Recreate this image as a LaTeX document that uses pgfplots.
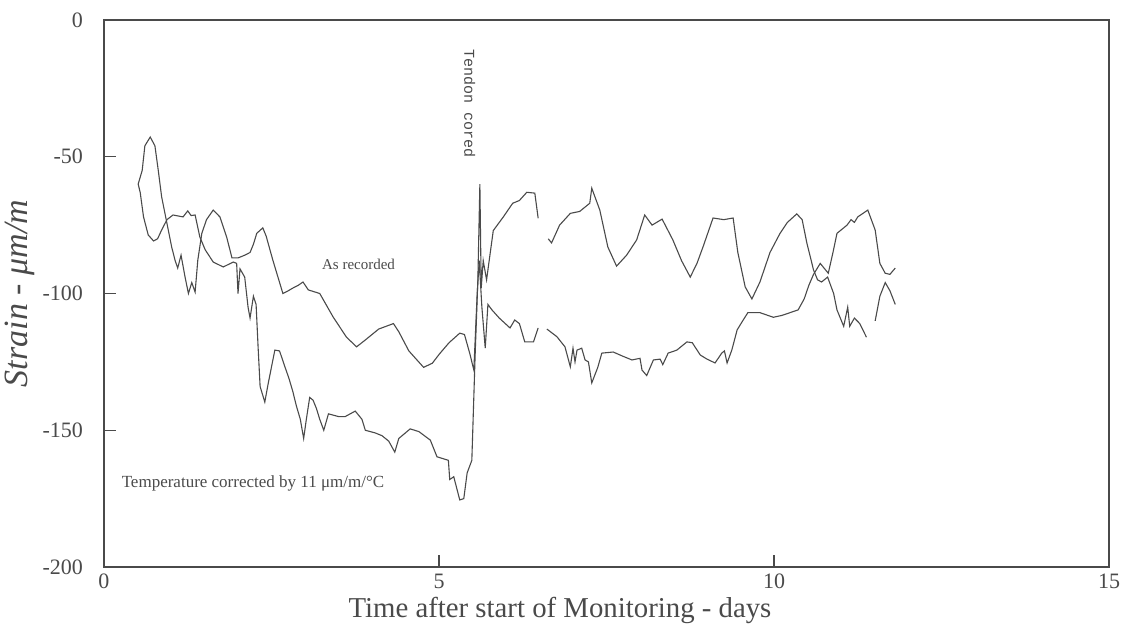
\documentclass[border=0pt]{standalone}
\usepackage{pgfplots}
\pgfplotsset{compat=1.18}
\usepackage{pgfplotstable}
\usepackage{fontspec}
\setmainfont{Liberation Serif}
\setmonofont{Liberation Mono}
\definecolor{ink}{HTML}{4A4A4A}
\pgfplotstableread{
x y
0.51 -60
0.57 -55
0.61 -46
0.69 -42.8
0.76 -46
0.81 -55
0.86 -64.6
0.94 -74.4
1.01 -83
1.06 -87.8
1.10 -90.7
1.15 -86
1.21 -94
1.26 -100
1.31 -96
1.36 -99.5
1.40 -87.8
1.46 -78
1.53 -73
1.63 -69.5
1.73 -72
1.83 -79.3
1.91 -87
2.00 -87
2.10 -86
2.18 -85
2.23 -82
2.28 -78
2.37 -76
2.42 -79
2.52 -87.8
2.67 -100
2.75 -99
2.82 -98
2.90 -97
2.97 -95.8
3.05 -98.7
3.22 -100
3.42 -108.6
3.62 -116
3.77 -119.5
3.90 -117
4.10 -113
4.32 -111
4.40 -114
4.55 -121
4.77 -127
4.90 -125.5
5.01 -122
5.15 -118
5.31 -114.5
5.38 -115
5.46 -122
5.52 -128
5.57 -100
5.60 -88
5.64 -105
5.69 -120
5.73 -104
5.79 -106
5.90 -109
6.06 -112.6
6.13 -109.7
6.20 -111
6.28 -117.7
6.41 -117.7
6.48 -112.6
nan nan
6.61 -113
6.76 -115.8
6.88 -119.5
6.96 -126.8
7.00 -120
7.03 -125
7.06 -120.7
7.13 -120
7.18 -124.3
7.23 -125
7.28 -132.7
7.37 -127
7.43 -121.8
7.60 -121.4
7.75 -123
7.88 -124.3
8.00 -123.7
8.03 -128
8.10 -130
8.20 -124.3
8.30 -124
8.34 -126
8.42 -121.8
8.55 -120.7
8.70 -117.7
8.78 -118
8.90 -122.5
9.00 -124
9.12 -125.4
9.22 -121.8
9.26 -121
9.30 -125.4
9.37 -120.7
9.45 -113.3
9.54 -109.7
9.61 -107
9.79 -107
9.99 -108.7
10.12 -108
10.36 -106
10.45 -102
10.52 -97
10.59 -93
10.69 -89
10.81 -92.6
10.88 -85
10.94 -78
11.09 -75
11.15 -73
11.20 -74
11.25 -72
11.40 -69.5
11.51 -76.8
11.58 -89
11.66 -92.6
11.73 -93
11.81 -90.7
}\recorded
\pgfplotstableread{
x y
0.51 -60
0.54 -63
0.59 -72
0.66 -78.6
0.74 -80.8
0.80 -80
0.86 -76.8
0.94 -73
1.03 -71.3
1.18 -72
1.25 -69.8
1.30 -71.5
1.36 -71.3
1.43 -79.3
1.51 -84
1.63 -88.5
1.78 -90.3
1.93 -88.5
1.98 -89
2.00 -100
2.03 -91
2.10 -94
2.15 -105
2.18 -109
2.23 -101
2.27 -104
2.30 -119.6
2.33 -134
2.40 -139.7
2.45 -133
2.55 -120.7
2.62 -121
2.70 -126.8
2.76 -131
2.82 -136
2.87 -141
2.93 -146
2.98 -153
3.02 -146
3.07 -138
3.12 -139
3.17 -142
3.22 -146
3.28 -150
3.35 -144
3.50 -145
3.60 -145
3.75 -143
3.85 -146
3.90 -150
4.05 -151
4.15 -152
4.25 -154
4.34 -158
4.40 -153
4.57 -149.5
4.70 -150.5
4.87 -153.6
4.97 -159.7
5.14 -161
5.16 -168
5.22 -167
5.31 -175.5
5.37 -175
5.42 -165.6
5.49 -161
5.54 -122
5.58 -95
5.61 -60
5.63 -98
5.66 -88
5.71 -95
5.81 -77
5.96 -72
6.10 -67
6.20 -66
6.31 -63
6.43 -63.3
6.48 -72.5
nan nan
6.63 -80
6.68 -81.5
6.80 -75
6.96 -70.7
7.10 -70
7.25 -67
7.28 -61.5
7.40 -69.5
7.52 -83
7.65 -90
7.80 -86
7.95 -80.4
8.07 -71.3
8.18 -75
8.33 -72.8
8.49 -80.4
8.62 -88
8.75 -94
8.85 -89
8.94 -83
9.09 -72.4
9.25 -73
9.39 -72.4
9.46 -85
9.57 -97.6
9.67 -102
9.79 -95.8
9.94 -85
10.09 -78
10.20 -74
10.34 -70.9
10.42 -73
10.49 -81.5
10.59 -91.4
10.65 -95
10.71 -95.8
10.80 -94
10.89 -100
10.94 -106
11.04 -112
11.10 -105
11.13 -112
11.20 -109
11.28 -111
11.38 -116
nan nan
11.51 -110
11.58 -101
11.66 -96
11.73 -99
11.81 -104
}\corrected
\begin{document}
\begin{tikzpicture}
\useasboundingbox (-52pt,-34pt) rectangle (514.5pt,283.5pt);
\begin{axis}[
  at={(0,0)}, anchor=south west,
  scale only axis, width=502.5pt, height=273.5pt,
  xmin=0, xmax=15, ymin=-200, ymax=0,
  xtick={0,5,10,15}, ytick={-200,-150,-100,-50,0},
  tick align=inside, xtick pos=bottom, ytick pos=left,
  major tick length=6pt,
  axis line style={ink, line width=0.6pt},
  tick style={ink, line width=0.6pt},
  /pgf/number format/assume math mode=true,
  ticklabel style={font=\fontsize{11}{13}\selectfont, text=ink},
  yticklabel style={xshift=-7pt},
  xticklabel style={yshift=0pt},
  xlabel={Time after start of Monitoring - days},
  ylabel={\itshape Strain - μm/m},
  xlabel style={font=\fontsize{14.4}{16}\selectfont, text=ink, at={(axis description cs:0.4537,-0.080)}, anchor=center},
  ylabel style={font=\fontsize{17}{19}\selectfont, text=ink, at={(axis description cs:-0.0836,0.5)}, anchor=center},
  unbounded coords=jump,
  clip=false,
]
\addplot[ink, line width=0.55pt] table[x=x,y=y] {\recorded};
\addplot[ink, line width=0.55pt] table[x=x,y=y] {\corrected};
\node[anchor=west, font=\fontsize{7.5}{9}\selectfont, text=ink] at (axis cs:3.15,-89.2) {As recorded};
\node[anchor=west, font=\fontsize{8.5}{10}\selectfont, text=ink] at (axis cs:0.16,-169.3) {Temperature corrected by 11 μm/m/°C};
\node[rotate=-90, font=\ttfamily\fontsize{7.5}{8}\selectfont, text=ink] at (axis cs:5.46,-30.4) {Tendon cored};
\end{axis}
\end{tikzpicture}
\end{document}
